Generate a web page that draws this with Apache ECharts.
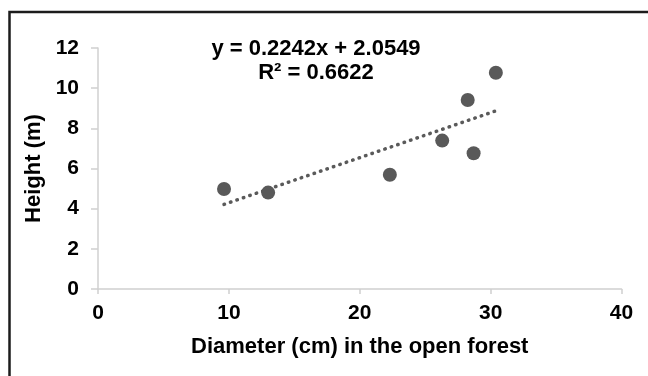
<!DOCTYPE html>
<html>
<head>
<meta charset="utf-8">
<script src="https://cdn.jsdelivr.net/npm/echarts@6/dist/echarts.min.js"></script>
<style>
html,body{margin:0;padding:0;background:#fff;}
#c{width:648px;height:376px;}
</style>
</head>
<body>
<div id="c"></div>
<script>
var diameter = [9.63, 13.0, 22.3, 26.3, 28.25, 28.7, 30.4];
var height = [4.98, 4.80, 5.69, 7.39, 9.41, 6.76, 10.77];
var slope = 0.2242;
var intercept = 2.0549;
var r2 = 0.6622;
var xTicks = [0, 10, 20, 30, 40];
var yTicks = [0, 2, 4, 6, 8, 10, 12];

var points = diameter.map(function (d, i) { return [d, height[i]]; });
var xMin = Math.min.apply(null, diameter), xMax = Math.max.apply(null, diameter);
var trend = [[xMin, slope * xMin + intercept], [xMax, slope * xMax + intercept]];

var font = '"Liberation Sans", Arial, sans-serif';
var chart = echarts.init(document.getElementById('c'));
chart.setOption({
  animation: false,
  backgroundColor: '#fff',
  grid: { left: 98, right: 26.5, top: 48, bottom: 87, containLabel: false },
  xAxis: {
    type: 'value', min: xTicks[0], max: xTicks[xTicks.length - 1], interval: 10,
    name: 'Diameter (cm) in the open forest', nameLocation: 'middle', nameGap: 47,
    nameTextStyle: { fontFamily: font, fontWeight: 'bold', fontSize: 22, color: '#000' },
    axisLine: { show: true, lineStyle: { color: '#d0d0d0', width: 1.5 } },
    axisTick: { show: true, length: 5, lineStyle: { color: '#d0d0d0', width: 1.5 } },
    axisLabel: { margin: 14, fontFamily: font, fontWeight: 'bold', fontSize: 21, color: '#000' },
    splitLine: { show: false }
  },
  yAxis: {
    type: 'value', min: yTicks[0], max: yTicks[yTicks.length - 1], interval: 2,
    name: 'Height (m)', nameLocation: 'middle', nameGap: 49,
    nameTextStyle: { fontFamily: font, fontWeight: 'bold', fontSize: 22, color: '#000' },
    axisLine: { show: true, lineStyle: { color: '#d0d0d0', width: 1.5 } },
    axisTick: { show: true, length: 7, lineStyle: { color: '#d0d0d0', width: 1.5 } },
    axisLabel: { margin: 19, fontFamily: font, fontWeight: 'bold', fontSize: 21, color: '#000' },
    splitLine: { show: false }
  },
  series: [
    {
      type: 'line', data: trend, symbol: 'none', silent: true,
      lineStyle: { color: '#5a5a5a', width: 3.5, type: [0.5, 6.3], cap: 'round' },
      z: 2
    },
    {
      type: 'scatter', data: points, symbol: 'circle', symbolSize: 14,
      itemStyle: { color: '#595959', opacity: 1 },
      z: 3
    }
  ],
  graphic: [
    {
      type: 'rect', left: 7, top: 9.5,
      shape: { width: 700, height: 420 },
      style: { fill: 'none', stroke: '#1c1c1c', lineWidth: 2.5 },
      silent: true
    },
    {
      type: 'text', x: 316, y: 61,
      style: {
        text: 'y = ' + slope.toFixed(4) + 'x + ' + intercept.toFixed(4) + '\nR² = ' + r2.toFixed(4),
        font: 'bold 22px ' + font, fill: '#000', align: 'center', verticalAlign: 'middle', lineHeight: 24
      }
    }
  ]
});
</script>
</body>
</html>
